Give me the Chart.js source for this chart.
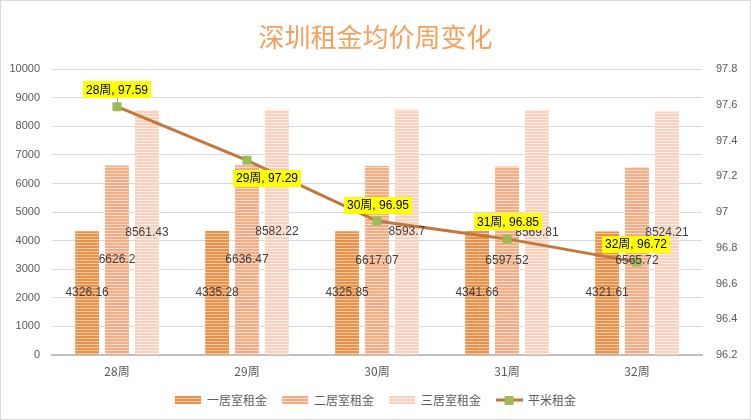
<!DOCTYPE html>
<html>
<head>
<meta charset="utf-8">
<script src="https://cdn.jsdelivr.net/npm/chart.js@4/dist/chart.umd.min.js"></script>
<style>
  html, body { margin: 0; padding: 0; background: #fff; }
  #wrap { width: 751px; height: 420px; }
</style>
</head>
<body>
<div id="wrap"><canvas id="grafico" width="751" height="420"></canvas></div>
<script>
const semanas = ['28周', '29周', '30周', '31周', '32周'];
const umQuarto = [4326.16, 4335.28, 4325.85, 4341.66, 4321.61];
const doisQuartos = [6626.2, 6636.47, 6617.07, 6597.52, 6565.72];
const tresQuartos = [8561.43, 8582.22, 8593.7, 8569.81, 8524.21];
const precoM2 = [97.59, 97.29, 96.95, 96.85, 96.72];

const FONTE = '"Liberation Sans", "Noto Sans CJK SC", sans-serif';
const CJK = '"Noto Sans CJK SC", "Liberation Sans", sans-serif';

// listras horizontais das barras
function listras(corA, corB) {
  const c = document.createElement('canvas');
  c.width = 4; c.height = 3;
  const g = c.getContext('2d');
  g.fillStyle = corA; g.fillRect(0, 0, 4, 2);
  g.fillStyle = corB; g.fillRect(0, 2, 4, 1);
  return g.createPattern(c, 'repeat');
}

const ctx = document.getElementById('grafico').getContext('2d');
const p1 = listras('#E8914B', '#F6C9A2');
const p2 = listras('#F4AC84', '#FBDCCB');
const p3 = listras('#F9D2BF', '#FDEDE5');

// icones da legenda
function iconeBarra(pat) {
  const c = document.createElement('canvas');
  c.width = 26; c.height = 8;
  const g = c.getContext('2d');
  g.fillStyle = pat; g.fillRect(0, 0, 26, 8);
  return c;
}
function iconeLinha() {
  const c = document.createElement('canvas');
  c.width = 27; c.height = 9;
  const g = c.getContext('2d');
  g.fillStyle = '#C5773A'; g.fillRect(0, 3, 27, 3);
  g.fillStyle = '#9BBB59'; g.fillRect(9, 0, 9, 9);
  return c;
}

// posicao dos rotulos da linha (dx, dy)
const posRotulo = [[0, -17], [20, 18], [1, -16], [1, -17], [-1, -18]];

const rotulos = {
  id: 'rotulos',
  beforeDraw(chart) {
    const c = chart.ctx;
    c.save();
    c.fillStyle = '#fff';
    c.fillRect(0, 0, chart.width, chart.height);
    c.strokeStyle = '#D9D9D9';
    c.lineWidth = 1;
    c.strokeRect(0.5, 0.5, chart.width - 1, chart.height - 1);
    c.restore();
  },
  afterDatasetsDraw(chart) {
    const c = chart.ctx;
    c.save();
    c.font = '12px ' + FONTE;
    c.textAlign = 'center';
    c.textBaseline = 'middle';
    // barras
    [0, 1, 2].forEach(i => {
      const meta = chart.getDatasetMeta(i);
      meta.data.forEach((bar, j) => {
        c.fillStyle = '#404040';
        c.fillText(String(chart.data.datasets[i].data[j]), bar.x, (bar.y + bar.base) / 2);
      });
    });
    // linha
    const meta = chart.getDatasetMeta(3);
    meta.data.forEach((pt, j) => {
      const txt = semanas[j] + ', ' + precoM2[j];
      const w = c.measureText(txt).width + 6;
      const h = 17;
      const cx = pt.x + posRotulo[j][0];
      const cy = pt.y + posRotulo[j][1];
      if (j === 0) {
        c.strokeStyle = '#A6A6A6';
        c.lineWidth = 1;
        c.beginPath();
        c.moveTo(pt.x + 0.5, cy + h / 2);
        c.lineTo(pt.x + 0.5, pt.y - 4);
        c.stroke();
      }
      c.fillStyle = '#FFFF00';
      c.fillRect(Math.round(cx - w / 2), Math.round(cy - h / 2), Math.round(w), h);
      c.fillStyle = '#000';
      c.fillText(txt, cx, cy + 0.5);
    });
    c.restore();
  }
};

new Chart(ctx, {
  type: 'bar',
  data: {
    labels: semanas,
    datasets: [
      { label: '一居室租金', data: umQuarto, backgroundColor: p1, order: 1, yAxisID: 'y' },
      { label: '二居室租金', data: doisQuartos, backgroundColor: p2, order: 1, yAxisID: 'y' },
      { label: '三居室租金', data: tresQuartos, backgroundColor: p3, order: 1, yAxisID: 'y' },
      {
        type: 'line', label: '平米租金', data: precoM2, yAxisID: 'y1', order: 0,
        borderColor: '#C5773A', borderWidth: 3, tension: 0,
        pointStyle: 'rect', pointRadius: 6.4, pointHoverRadius: 6.4,
        pointBackgroundColor: '#9BBB59', pointBorderColor: '#9BBB59', pointBorderWidth: 0
      }
    ]
  },
  options: {
    responsive: false,
    animation: false,
    devicePixelRatio: 1,
    categoryPercentage: 0.69,
    barPercentage: 0.8,
    layout: { padding: { top: 0, left: 0, right: 0, bottom: 4 } },
    plugins: {
      tooltip: { enabled: false },
      title: {
        display: true,
        text: '深圳租金均价周变化',
        color: '#F4A15D',
        font: { family: CJK, size: 26, weight: 'normal' },
        padding: { top: 22, bottom: 16 }
      },
      legend: {
        display: true,
        position: 'bottom',
        labels: {
          usePointStyle: true,
          pointStyleWidth: 26,
          padding: 15,
          color: '#595959',
          font: { family: CJK, size: 12 },
          generateLabels() {
            const icones = [iconeBarra(p1), iconeBarra(p2), iconeBarra(p3), iconeLinha()];
            const nomes = ['一居室租金', '二居室租金', '三居室租金', '平米租金'];
            return nomes.map((t, i) => ({
              text: t, pointStyle: icones[i], datasetIndex: i,
              fillStyle: 'transparent', strokeStyle: 'transparent', lineWidth: 0,
              fontColor: '#595959', hidden: false
            }));
          }
        }
      }
    },
    scales: {
      x: {
        grid: { display: false, drawTicks: false },
        border: { color: '#BFBFBF', width: 2 },
        ticks: { color: '#595959', font: { family: CJK, size: 12 }, padding: 9 },
        afterFit(s) { s.height = 24; }
      },
      y: {
        position: 'left',
        min: 0, max: 10000,
        ticks: { stepSize: 1000, color: '#595959', font: { family: FONTE, size: 11 }, padding: 12, callback: v => String(v) },
        grid: { color: '#D9D9D9', drawTicks: false },
        border: { display: false },
        afterFit(s) { s.width = 52; }
      },
      y1: {
        position: 'right',
        min: 96.2, max: 97.8,
        ticks: { stepSize: 0.2, color: '#595959', font: { family: FONTE, size: 11 }, padding: 14,
          callback: v => String(Number(v.toFixed(1))) },
        grid: { drawOnChartArea: false, drawTicks: false },
        border: { display: false },
        afterFit(s) { s.width = 49; }
      }
    }
  },
  plugins: [rotulos]
});
</script>
</body>
</html>
